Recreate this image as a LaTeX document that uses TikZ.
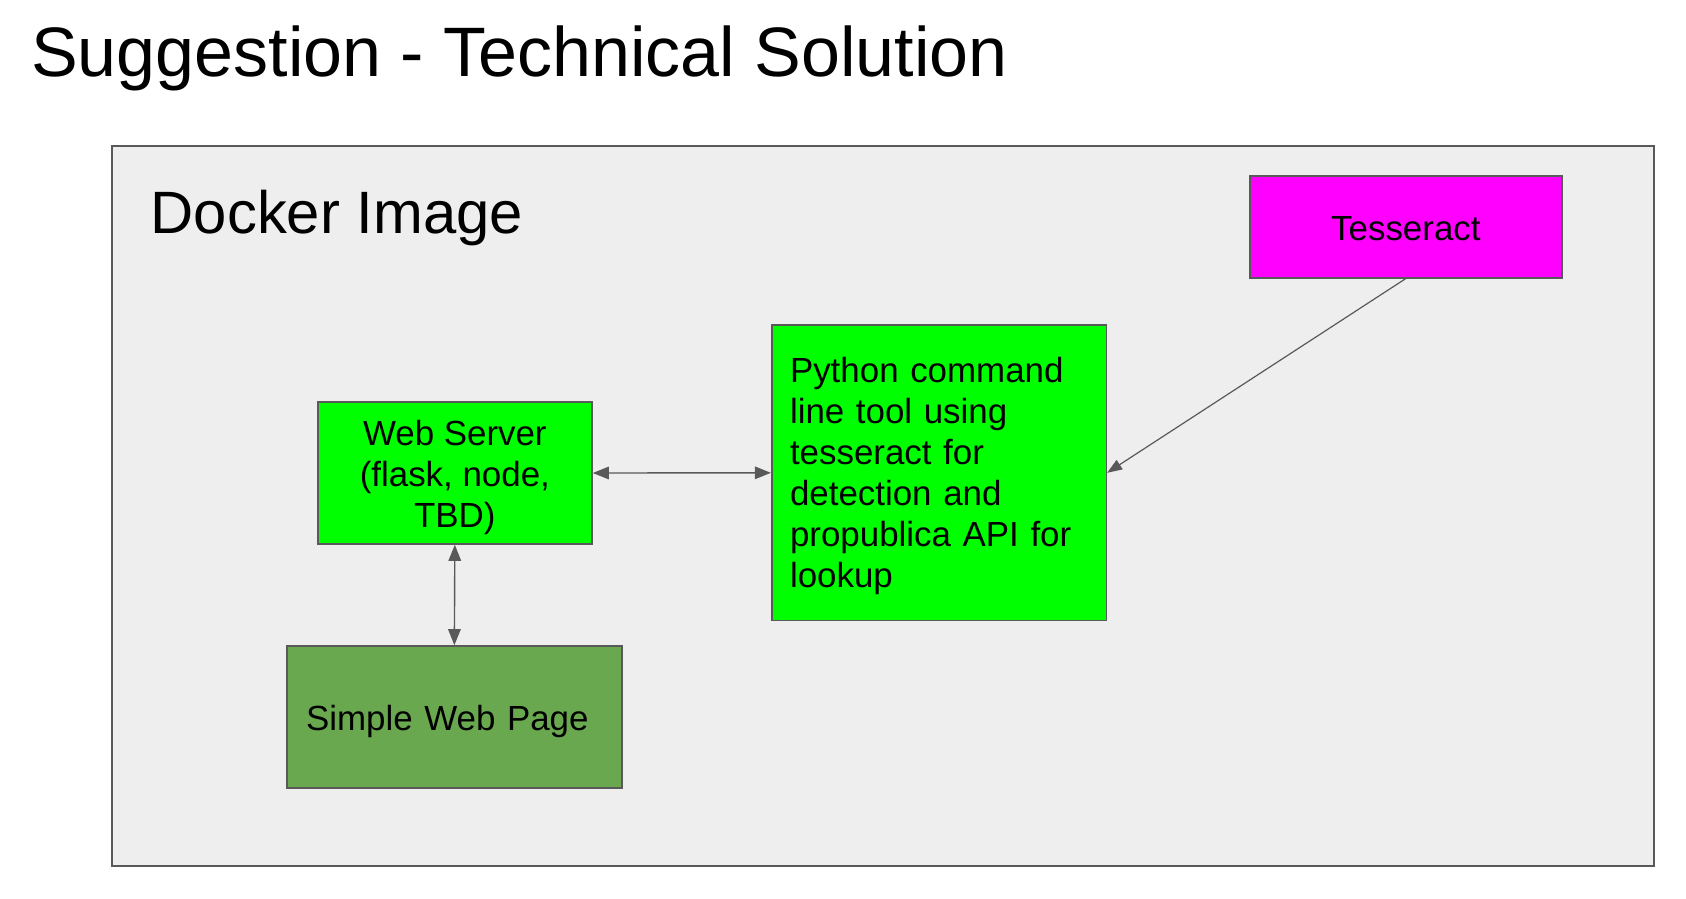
\documentclass[tikz,border=0pt]{standalone}
\usepackage{fontspec}
\setmainfont{Liberation Sans}
\usetikzlibrary{arrows.meta}
\definecolor{edgegray}{HTML}{595959}
\definecolor{dockerfill}{HTML}{EEEEEE}
\definecolor{brightgreen}{HTML}{00FF00}
\definecolor{pagegreen}{HTML}{6AA84F}
\definecolor{tessmag}{HTML}{FF00FF}
\begin{document}
\begin{tikzpicture}[x=1pt,y=-1pt,
  box/.style={draw=edgegray, line width=1.6pt, rectangle, inner ysep=0pt,
    font=\fontsize{34.9}{41}\selectfont},
  conn/.style={draw=edgegray, line width=1.4pt,
    {Triangle[length=16pt,width=12.5pt]}-{Triangle[length=16pt,width=12.5pt]}},
  connone/.style={draw=edgegray, line width=1.2pt,
    -{Triangle[length=15pt,width=11pt]}},
  plain/.style={anchor=base west, inner sep=0pt}
]
\useasboundingbox[fill=white] (0,0) rectangle (1686,898);

\node[plain, font=\fontsize{70}{80}\selectfont] (title) at (31,76) {Suggestion - Technical Solution};

\node[draw=edgegray, fill=dockerfill, line width=2pt, minimum width=1542pt,
  minimum height=720pt, inner sep=0pt] (docker) at (883,506) {};
\node[plain, font=\fontsize{59.8}{70}\selectfont] (dockerlabel) at (150.5,233) {Docker Image};

\node[box, fill=tessmag, minimum width=312.3pt, minimum height=101.7pt,
  align=center, inner xsep=0pt] (tess) at (1405.85,226.85)
  {\rule{0pt}{36.3pt}Tesseract\rule[-10pt]{0pt}{10pt}};

\node[box, fill=brightgreen, minimum width=334.6pt, minimum height=295.7pt,
  text width=298pt, inner xsep=18.3pt, align=left] (py) at (939,472.8)
  {\rule{0pt}{34pt}Python command\\line tool using\\tesseract for\\detection and\\propublica API for\\lookup\rule[-10pt]{0pt}{10pt}};

\node[box, fill=brightgreen, minimum width=274.3pt, minimum height=142pt,
  align=center, inner xsep=0pt] (web) at (454.85,473)
  {\rule{0pt}{36pt}Web Server\\(flask, node,\\TBD)\rule[-10pt]{0pt}{10pt}};

\node[box, fill=pagegreen, minimum width=334.7pt, minimum height=141.7pt,
  text width=296.7pt, inner xsep=19pt, align=left] (swp) at (454.35,716.85)
  {\rule{0pt}{36.3pt}Simple Web Page\rule[-10pt]{0pt}{10pt}};

\draw[conn] (web.east) -- (py.west);
\draw[conn] (web.south) -- (swp.north);
\draw[connone] (tess.south) -- (py.east);
\end{tikzpicture}
\end{document}
